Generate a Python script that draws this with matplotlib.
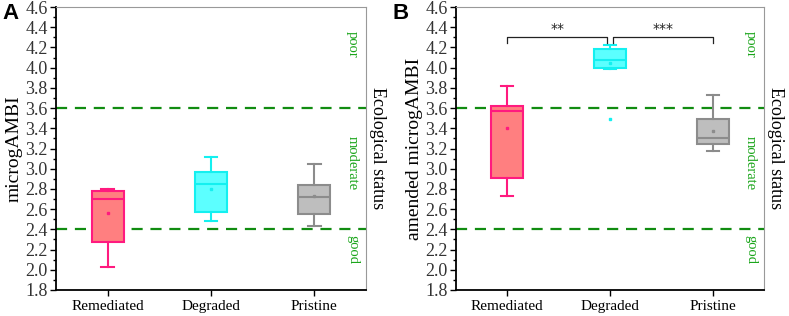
import matplotlib
matplotlib.use("Agg")
import matplotlib.pyplot as plt
from matplotlib.ticker import MultipleLocator

categories = ["Remediated", "Degraded", "Pristine"]

# Panel A: microgAMBI (whislo, q1, med, q3, whishi, mean)
a_whislo = [2.03, 2.48, 2.43]
a_q1 = [2.27, 2.57, 2.55]
a_med = [2.70, 2.85, 2.72]
a_q3 = [2.78, 2.97, 2.84]
a_whishi = [2.80, 3.12, 3.05]
a_mean = [2.56, 2.80, 2.73]

# Panel B: amended microgAMBI
b_whislo = [2.73, 3.99, 3.18]
b_q1 = [2.91, 4.00, 3.24]
b_med = [3.57, 4.08, 3.30]
b_q3 = [3.62, 4.18, 3.49]
b_whishi = [3.82, 4.22, 3.73]
b_mean = [3.40, 4.05, 3.37]
b_outliers = [[], [3.49], []]

thresholds = [2.4, 3.6]
status_labels = ["poor", "moderate", "good"]
status_pos = [4.23, 3.06, 2.20]

sig_pairs = [(0, 1, "**"), (1, 2, "***")]

face_colors = ["#FF7F80", "#5CFFFF", "#BEBEBE"]
edge_colors = ["#FF1A7F", "#14F0F0", "#8C8C8C"]

serif = "Liberation Serif"
plt.rcParams["font.family"] = serif

fig = plt.figure(figsize=(7.89, 3.16), dpi=100)
axA = fig.add_axes([56/789, 26/316, 310/789, 283/316])
axB = fig.add_axes([456/789, 26/316, 308/789, 283/316])


def draw(ax, whislo, q1, med, q3, whishi, mean, outl, ylabel):
    stats = []
    for i in range(len(categories)):
        stats.append(dict(whislo=whislo[i], q1=q1[i], med=med[i], q3=q3[i],
                          whishi=whishi[i], mean=mean[i], fliers=outl[i]))
    positions = list(range(1, len(categories) + 1))
    bp = ax.bxp(stats, positions=positions, widths=0.31, patch_artist=True,
                showmeans=True, showfliers=True, manage_ticks=False)
    for i in range(len(categories)):
        bp["boxes"][i].set(facecolor=face_colors[i], edgecolor=edge_colors[i], linewidth=1.5)
        bp["medians"][i].set(color=edge_colors[i], linewidth=1.5)
        for w in bp["whiskers"][2*i:2*i+2]:
            w.set(color=edge_colors[i], linewidth=1.5)
        for c in bp["caps"][2*i:2*i+2]:
            c.set(color=edge_colors[i], linewidth=1.5, xdata=[positions[i]-0.06, positions[i]+0.06])
        bp["means"][i].set(marker="s", markersize=1.8, markerfacecolor=edge_colors[i],
                           markeredgecolor=edge_colors[i])
        bp["fliers"][i].set(marker="s", markersize=2.0, markerfacecolor=edge_colors[i],
                            markeredgecolor=edge_colors[i], linestyle="none")
    for t in thresholds:
        ax.axhline(t, color="#118C11", linestyle=(0, (5, 3.5)), linewidth=1.6, zorder=1)
    for lab, yp in zip(status_labels, status_pos):
        ax.text(3.37, yp, lab, rotation=-90, ha="center", va="center", color="#1AA51A",
                fontsize=10.5)
    ax.set_xlim(0.5, 3.5)
    ax.set_ylim(1.8, 4.6)
    ax.yaxis.set_major_locator(MultipleLocator(0.2))
    ax.yaxis.set_minor_locator(MultipleLocator(0.1))
    ax.yaxis.set_major_formatter(matplotlib.ticker.FormatStrFormatter("%.1f"))
    ax.set_xticks(positions)
    ax.set_xticklabels(categories, fontsize=11)
    ax.tick_params(axis="y", which="major", direction="out", length=4, width=1,
                   labelsize=13, labelcolor="#333333", pad=2)
    ax.tick_params(axis="y", which="minor", direction="out", length=2.5, width=1)
    ax.tick_params(axis="x", direction="out", length=4, width=1, labelsize=11, pad=3)
    ax.spines["left"].set_linewidth(1.3)
    ax.spines["bottom"].set_linewidth(1.3)
    ax.spines["top"].set_color("#999999")
    ax.spines["right"].set_color("#999999")
    ax.set_ylabel(ylabel, fontsize=14, labelpad=2)
    ax.text(1.037, 0.5, "Ecological status", transform=ax.transAxes, rotation=-90,
            ha="center", va="center", fontsize=13)


draw(axA, a_whislo, a_q1, a_med, a_q3, a_whishi, a_mean, [[], [], []], "microgAMBI")
draw(axB, b_whislo, b_q1, b_med, b_q3, b_whishi, b_mean, b_outliers, "amended microgAMBI")

# significance brackets in B
bar_y = 4.30
tip = 0.055
for i, j, s in sig_pairs:
    x0 = i + 1 + (0.0 if i == 0 else 0.03)
    x1 = j + 1 - (0.03 if j == 1 else 0.0)
    axB.plot([x0, x0, x1, x1], [bar_y - tip, bar_y, bar_y, bar_y - tip], color="#222222",
             linewidth=0.9)
    axB.text((x0 + x1) / 2, bar_y + 0.01, s, ha="center", va="bottom", fontsize=10,
             family="DejaVu Sans", color="#222222")

fig.text(0.003, 0.99, "A", fontsize=16, fontweight="bold", family="Liberation Sans",
         ha="left", va="top")
fig.text(0.497, 0.99, "B", fontsize=16, fontweight="bold", family="Liberation Sans",
         ha="left", va="top")

fig.savefig("out.png", dpi=100)
